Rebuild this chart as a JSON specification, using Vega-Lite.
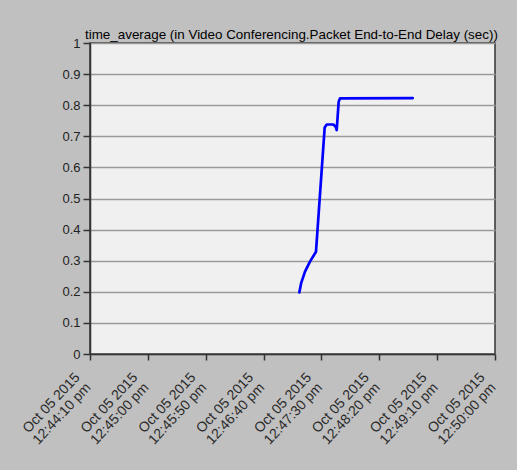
{
  "$schema": "https://vega.github.io/schema/vega-lite/v6.json",
  "width": 405,
  "height": 311,
  "autosize": {"type": "none"},
  "padding": {"left": 90, "top": 43, "right": 22, "bottom": 116},
  "background": "#c0c0c0",
  "title": {
    "text": "time_average (in Video Conferencing.Packet End-to-End Delay (sec))",
    "anchor": "start",
    "frame": "group",
    "dx": -5,
    "dy": 10,
    "offset": 6,
    "font": "Liberation Sans",
    "fontSize": 13.4,
    "fontWeight": "normal",
    "color": "#000000"
  },
  "config": {
    "view": {"fill": "#f0f0f0", "stroke": "#333333", "strokeWidth": 1.5},
    "font": "Liberation Sans"
  },
  "data": {
    "values": [
      {"time": "2015-10-05T12:47:10.9", "delay": 0.198},
      {"time": "2015-10-05T12:47:12.4", "delay": 0.227},
      {"time": "2015-10-05T12:47:15.8", "delay": 0.265},
      {"time": "2015-10-05T12:47:20.1", "delay": 0.297},
      {"time": "2015-10-05T12:47:25.3", "delay": 0.329},
      {"time": "2015-10-05T12:47:32.8", "delay": 0.728},
      {"time": "2015-10-05T12:47:34.6", "delay": 0.738},
      {"time": "2015-10-05T12:47:40.3", "delay": 0.738},
      {"time": "2015-10-05T12:47:42.3", "delay": 0.731},
      {"time": "2015-10-05T12:47:43.2", "delay": 0.72},
      {"time": "2015-10-05T12:47:44.9", "delay": 0.811},
      {"time": "2015-10-05T12:47:46.1", "delay": 0.822},
      {"time": "2015-10-05T12:48:48.9", "delay": 0.823}
    ]
  },
  "mark": {"type": "line", "color": "#0000ff", "strokeWidth": 2.7, "strokeJoin": "round", "strokeCap": "round"},
  "encoding": {
    "x": {
      "field": "time",
      "type": "temporal",
      "scale": {
        "domain": [
          {"year": 2015, "month": 10, "date": 5, "hours": 12, "minutes": 44, "seconds": 10},
          {"year": 2015, "month": 10, "date": 5, "hours": 12, "minutes": 50, "seconds": 0}
        ]
      },
      "axis": {
        "title": null,
        "values": [
          {"year": 2015, "month": 10, "date": 5, "hours": 12, "minutes": 44, "seconds": 10},
          {"year": 2015, "month": 10, "date": 5, "hours": 12, "minutes": 45, "seconds": 0},
          {"year": 2015, "month": 10, "date": 5, "hours": 12, "minutes": 45, "seconds": 50},
          {"year": 2015, "month": 10, "date": 5, "hours": 12, "minutes": 46, "seconds": 40},
          {"year": 2015, "month": 10, "date": 5, "hours": 12, "minutes": 47, "seconds": 30},
          {"year": 2015, "month": 10, "date": 5, "hours": 12, "minutes": 48, "seconds": 20},
          {"year": 2015, "month": 10, "date": 5, "hours": 12, "minutes": 49, "seconds": 10},
          {"year": 2015, "month": 10, "date": 5, "hours": 12, "minutes": 50, "seconds": 0}
        ],
        "labelExpr": "[timeFormat(datum.value, '%b %d %Y'), timeFormat(datum.value, '%I:%M:%S') + ' ' + lower(timeFormat(datum.value, '%p'))]",
        "labelAngle": -47,
        "labelAlign": "right",
        "labelBaseline": "top",
        "labelFontSize": 14,
        "labelLineHeight": 15,
        "labelColor": "#2a2a2a",
        "labelPadding": 10,
        "labelOffset": -18,
        "labelOverlap": false,
        "labelFlush": false,
        "grid": false,
        "tickColor": "#333333",
        "tickSize": 6,
        "tickWidth": 1.5,
        "domainColor": "#333333",
        "domainWidth": 1.5
      }
    },
    "y": {
      "field": "delay",
      "type": "quantitative",
      "scale": {"domain": [0, 1], "nice": false},
      "axis": {
        "title": null,
        "values": [0, 0.1, 0.2, 0.3, 0.4, 0.5, 0.6, 0.7, 0.8, 0.9, 1],
        "format": "~g",
        "labelFontSize": 13,
        "labelColor": "#222222",
        "labelPadding": 3,
        "labelFlush": false,
        "tickColor": "#333333",
        "tickSize": 7,
        "tickWidth": 1.5,
        "domainColor": "#333333",
        "domainWidth": 1.5,
        "grid": true,
        "gridColor": "#9a9a9a",
        "gridWidth": 1.5
      }
    }
  }
}
